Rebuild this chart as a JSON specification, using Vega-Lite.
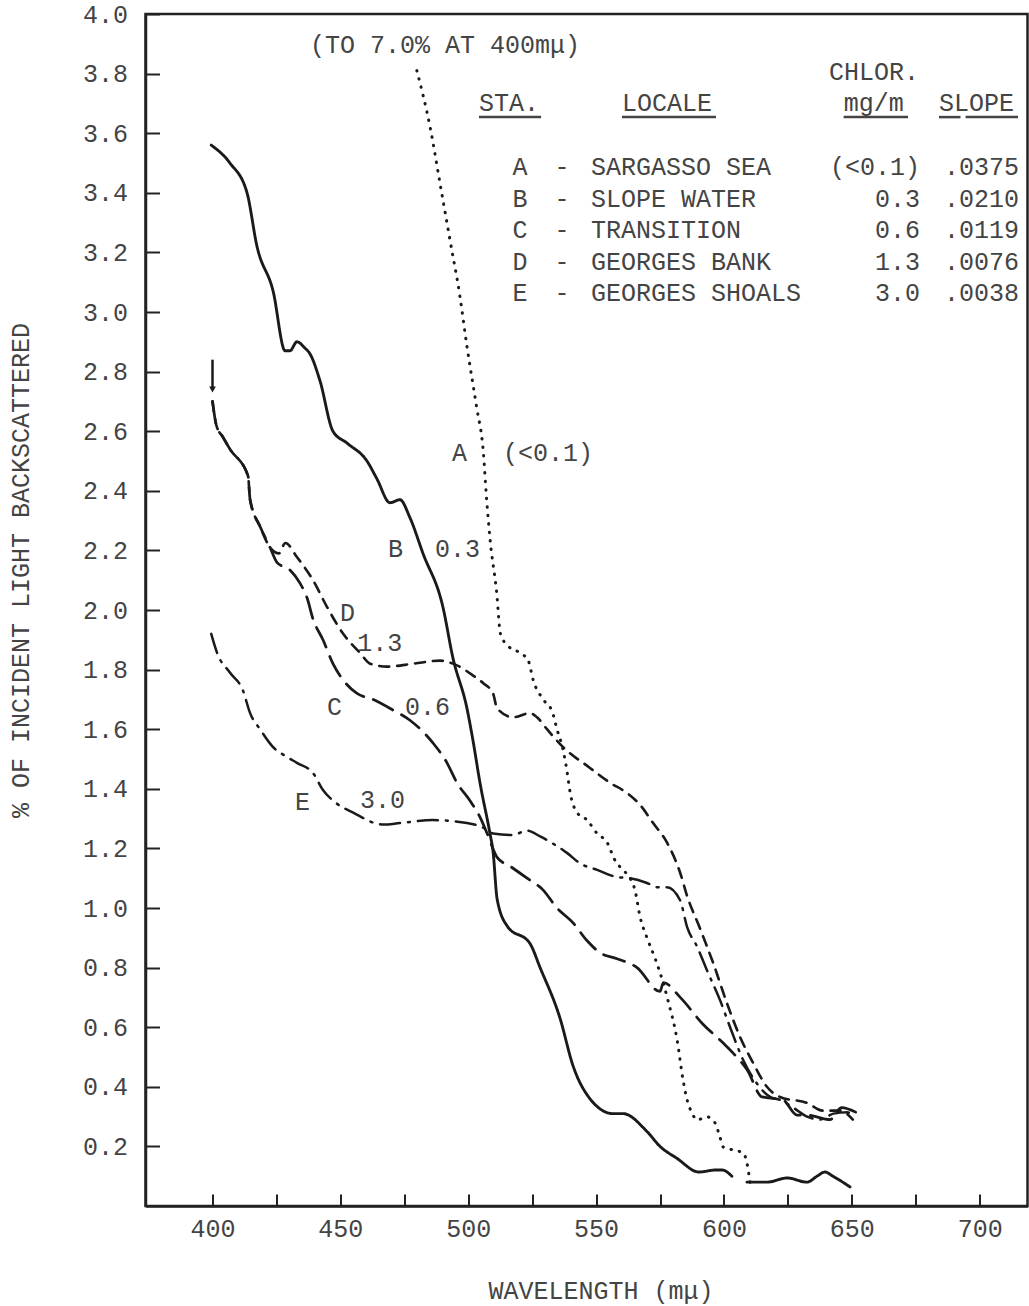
{
  "$schema": "https://vega.github.io/schema/vega-lite/v6.json",
  "width": 882,
  "height": 1192,
  "autosize": {"type": "none"},
  "padding": {"left": 145.5, "top": 14, "right": 1.5, "bottom": 100},
  "background": "white",
  "config": {
    "font": "Liberation Mono",
    "view": {"stroke": "#222", "strokeWidth": 2.5},
    "axis": {
      "grid": false,
      "domainColor": "#222",
      "domainWidth": 2.5,
      "tickColor": "#222",
      "tickWidth": 2,
      "labelFont": "Liberation Mono",
      "labelColor": "#444",
      "titleFont": "Liberation Mono",
      "titleColor": "#444",
      "titleFontWeight": "normal"
    }
  },
  "datasets": {
    "curves": [
      {"series": "A", "station": "A", "w": 479.9, "v": 3.81},
      {"series": "A", "station": "A", "w": 485.1, "v": 3.62},
      {"series": "A", "station": "A", "w": 489.0, "v": 3.43},
      {"series": "A", "station": "A", "w": 492.9, "v": 3.24},
      {"series": "A", "station": "A", "w": 496.8, "v": 3.05},
      {"series": "A", "station": "A", "w": 499.4, "v": 2.89},
      {"series": "A", "station": "A", "w": 503.3, "v": 2.68},
      {"series": "A", "station": "A", "w": 505.9, "v": 2.53},
      {"series": "A", "station": "A", "w": 507.2, "v": 2.37},
      {"series": "A", "station": "A", "w": 508.5, "v": 2.24},
      {"series": "A", "station": "A", "w": 511.1, "v": 2.06},
      {"series": "A", "station": "A", "w": 512.6, "v": 1.92},
      {"series": "A", "station": "A", "w": 515.5, "v": 1.88},
      {"series": "A", "station": "A", "w": 520.5, "v": 1.855},
      {"series": "A", "station": "A", "w": 523.5, "v": 1.83},
      {"series": "A", "station": "A", "w": 525.4, "v": 1.765},
      {"series": "A", "station": "A", "w": 529.3, "v": 1.70},
      {"series": "A", "station": "A", "w": 532.8, "v": 1.66},
      {"series": "A", "station": "A", "w": 534.7, "v": 1.60},
      {"series": "A", "station": "A", "w": 537.1, "v": 1.53},
      {"series": "A", "station": "A", "w": 538.6, "v": 1.46},
      {"series": "A", "station": "A", "w": 539.8, "v": 1.39},
      {"series": "A", "station": "A", "w": 542.6, "v": 1.32},
      {"series": "A", "station": "A", "w": 546.5, "v": 1.295},
      {"series": "A", "station": "A", "w": 550.4, "v": 1.25},
      {"series": "A", "station": "A", "w": 554.3, "v": 1.22},
      {"series": "A", "station": "A", "w": 557.4, "v": 1.16},
      {"series": "A", "station": "A", "w": 560.2, "v": 1.13},
      {"series": "A", "station": "A", "w": 563.3, "v": 1.10},
      {"series": "A", "station": "A", "w": 565.2, "v": 1.06},
      {"series": "A", "station": "A", "w": 567.2, "v": 0.97},
      {"series": "A", "station": "A", "w": 569.9, "v": 0.90},
      {"series": "A", "station": "A", "w": 573.1, "v": 0.83},
      {"series": "A", "station": "A", "w": 576.2, "v": 0.75},
      {"series": "A", "station": "A", "w": 578.1, "v": 0.69},
      {"series": "A", "station": "A", "w": 581.7, "v": 0.557},
      {"series": "A", "station": "A", "w": 584.0, "v": 0.423},
      {"series": "A", "station": "A", "w": 585.6, "v": 0.356},
      {"series": "A", "station": "A", "w": 587.5, "v": 0.312},
      {"series": "A", "station": "A", "w": 589.5, "v": 0.289},
      {"series": "A", "station": "A", "w": 593.4, "v": 0.299},
      {"series": "A", "station": "A", "w": 596.5, "v": 0.279},
      {"series": "A", "station": "A", "w": 598.4, "v": 0.232},
      {"series": "A", "station": "A", "w": 599.7, "v": 0.198},
      {"series": "A", "station": "A", "w": 603.6, "v": 0.188},
      {"series": "A", "station": "A", "w": 607.5, "v": 0.178},
      {"series": "A", "station": "A", "w": 609.0, "v": 0.144},
      {"series": "A", "station": "A", "w": 610.2, "v": 0.08},

      {"series": "B1", "station": "B", "w": 399.5, "v": 3.56},
      {"series": "B1", "station": "B", "w": 406.8, "v": 3.50},
      {"series": "B1", "station": "B", "w": 413.5, "v": 3.40},
      {"series": "B1", "station": "B", "w": 417.4, "v": 3.22},
      {"series": "B1", "station": "B", "w": 423.7, "v": 3.07},
      {"series": "B1", "station": "B", "w": 428.4, "v": 2.87},
      {"series": "B1", "station": "B", "w": 430.3, "v": 2.87},
      {"series": "B1", "station": "B", "w": 433.0, "v": 2.90},
      {"series": "B1", "station": "B", "w": 436.0, "v": 2.88},
      {"series": "B1", "station": "B", "w": 438.1, "v": 2.86},
      {"series": "B1", "station": "B", "w": 442.0, "v": 2.77},
      {"series": "B1", "station": "B", "w": 447.1, "v": 2.60},
      {"series": "B1", "station": "B", "w": 452.6, "v": 2.56},
      {"series": "B1", "station": "B", "w": 460.4, "v": 2.50},
      {"series": "B1", "station": "B", "w": 464.3, "v": 2.44},
      {"series": "B1", "station": "B", "w": 469.4, "v": 2.36},
      {"series": "B1", "station": "B", "w": 473.3, "v": 2.37},
      {"series": "B1", "station": "B", "w": 477.2, "v": 2.31},
      {"series": "B1", "station": "B", "w": 482.3, "v": 2.19},
      {"series": "B1", "station": "B", "w": 490.1, "v": 2.01},
      {"series": "B1", "station": "B", "w": 494.0, "v": 1.84},
      {"series": "B1", "station": "B", "w": 499.5, "v": 1.67},
      {"series": "B1", "station": "B", "w": 501.9, "v": 1.56},
      {"series": "B1", "station": "B", "w": 504.6, "v": 1.42},
      {"series": "B1", "station": "B", "w": 508.5, "v": 1.25},
      {"series": "B1", "station": "B", "w": 509.7, "v": 1.19},
      {"series": "B1", "station": "B", "w": 511.3, "v": 1.03},
      {"series": "B1", "station": "B", "w": 515.2, "v": 0.94},
      {"series": "B1", "station": "B", "w": 524.2, "v": 0.88},
      {"series": "B1", "station": "B", "w": 528.1, "v": 0.80},
      {"series": "B1", "station": "B", "w": 535.9, "v": 0.63},
      {"series": "B1", "station": "B", "w": 541.0, "v": 0.47},
      {"series": "B1", "station": "B", "w": 547.6, "v": 0.36},
      {"series": "B1", "station": "B", "w": 556.6, "v": 0.31},
      {"series": "B1", "station": "B", "w": 560.5, "v": 0.31},
      {"series": "B1", "station": "B", "w": 569.9, "v": 0.25},
      {"series": "B1", "station": "B", "w": 575.0, "v": 0.20},
      {"series": "B1", "station": "B", "w": 581.6, "v": 0.16},
      {"series": "B1", "station": "B", "w": 590.2, "v": 0.114},
      {"series": "B1", "station": "B", "w": 596.9, "v": 0.121},
      {"series": "B1", "station": "B", "w": 599.2, "v": 0.121},
      {"series": "B1", "station": "B", "w": 603.1, "v": 0.10},
      {"series": "B2", "station": "B", "w": 609.0, "v": 0.08},
      {"series": "B2", "station": "B", "w": 616.8, "v": 0.08},
      {"series": "B2", "station": "B", "w": 624.7, "v": 0.094},
      {"series": "B2", "station": "B", "w": 632.5, "v": 0.08},
      {"series": "B2", "station": "B", "w": 636.4, "v": 0.10},
      {"series": "B2", "station": "B", "w": 639.5, "v": 0.114},
      {"series": "B2", "station": "B", "w": 642.6, "v": 0.10},
      {"series": "B2", "station": "B", "w": 649.3, "v": 0.064},

      {"series": "C", "station": "C", "w": 400.0, "v": 2.70},
      {"series": "C", "station": "C", "w": 401.5, "v": 2.62},
      {"series": "C", "station": "C", "w": 404.1, "v": 2.58},
      {"series": "C", "station": "C", "w": 406.8, "v": 2.54},
      {"series": "C", "station": "C", "w": 413.9, "v": 2.45},
      {"series": "C", "station": "C", "w": 414.7, "v": 2.37},
      {"series": "C", "station": "C", "w": 418.6, "v": 2.28},
      {"series": "C", "station": "C", "w": 422.5, "v": 2.21},
      {"series": "C", "station": "C", "w": 425.2, "v": 2.16},
      {"series": "C", "station": "C", "w": 430.3, "v": 2.134},
      {"series": "C", "station": "C", "w": 434.2, "v": 2.09},
      {"series": "C", "station": "C", "w": 437.0, "v": 2.04},
      {"series": "C", "station": "C", "w": 439.3, "v": 1.97},
      {"series": "C", "station": "C", "w": 443.2, "v": 1.90},
      {"series": "C", "station": "C", "w": 447.1, "v": 1.82},
      {"series": "C", "station": "C", "w": 451.1, "v": 1.765},
      {"series": "C", "station": "C", "w": 456.5, "v": 1.72},
      {"series": "C", "station": "C", "w": 462.8, "v": 1.70},
      {"series": "C", "station": "C", "w": 470.6, "v": 1.664},
      {"series": "C", "station": "C", "w": 477.2, "v": 1.63},
      {"series": "C", "station": "C", "w": 486.2, "v": 1.554},
      {"series": "C", "station": "C", "w": 491.7, "v": 1.487},
      {"series": "C", "station": "C", "w": 495.6, "v": 1.42},
      {"series": "C", "station": "C", "w": 500.7, "v": 1.36},
      {"series": "C", "station": "C", "w": 504.6, "v": 1.305},
      {"series": "C", "station": "C", "w": 507.4, "v": 1.25},
      {"series": "C", "station": "C", "w": 511.3, "v": 1.17},
      {"series": "C", "station": "C", "w": 516.4, "v": 1.14},
      {"series": "C", "station": "C", "w": 523.0, "v": 1.10},
      {"series": "C", "station": "C", "w": 529.3, "v": 1.06},
      {"series": "C", "station": "C", "w": 534.7, "v": 1.00},
      {"series": "C", "station": "C", "w": 541.0, "v": 0.95},
      {"series": "C", "station": "C", "w": 546.5, "v": 0.89},
      {"series": "C", "station": "C", "w": 551.5, "v": 0.85},
      {"series": "C", "station": "C", "w": 558.2, "v": 0.83},
      {"series": "C", "station": "C", "w": 566.0, "v": 0.80},
      {"series": "C", "station": "C", "w": 575.0, "v": 0.72},
      {"series": "C", "station": "C", "w": 576.3, "v": 0.75},
      {"series": "C", "station": "C", "w": 582.9, "v": 0.70},
      {"series": "C", "station": "C", "w": 591.8, "v": 0.61},
      {"series": "C", "station": "C", "w": 599.7, "v": 0.547},
      {"series": "C", "station": "C", "w": 603.6, "v": 0.513},
      {"series": "C", "station": "C", "w": 609.1, "v": 0.456},
      {"series": "C", "station": "C", "w": 614.9, "v": 0.366},
      {"series": "C", "station": "C", "w": 623.1, "v": 0.356},
      {"series": "C", "station": "C", "w": 628.6, "v": 0.305},
      {"series": "C", "station": "C", "w": 632.5, "v": 0.305},
      {"series": "C", "station": "C", "w": 641.5, "v": 0.29},
      {"series": "C", "station": "C", "w": 646.0, "v": 0.33},
      {"series": "C", "station": "C", "w": 651.5, "v": 0.315},

      {"series": "D", "station": "D", "w": 400.0, "v": 2.70},
      {"series": "D", "station": "D", "w": 401.5, "v": 2.62},
      {"series": "D", "station": "D", "w": 404.1, "v": 2.58},
      {"series": "D", "station": "D", "w": 406.8, "v": 2.54},
      {"series": "D", "station": "D", "w": 413.9, "v": 2.45},
      {"series": "D", "station": "D", "w": 414.7, "v": 2.37},
      {"series": "D", "station": "D", "w": 418.6, "v": 2.28},
      {"series": "D", "station": "D", "w": 422.5, "v": 2.21},
      {"series": "D", "station": "D", "w": 426.0, "v": 2.19},
      {"series": "D", "station": "D", "w": 428.5, "v": 2.225},
      {"series": "D", "station": "D", "w": 433.0, "v": 2.178},
      {"series": "D", "station": "D", "w": 439.3, "v": 2.10},
      {"series": "D", "station": "D", "w": 444.8, "v": 2.01},
      {"series": "D", "station": "D", "w": 451.1, "v": 1.92},
      {"series": "D", "station": "D", "w": 457.7, "v": 1.856},
      {"series": "D", "station": "D", "w": 461.6, "v": 1.82},
      {"series": "D", "station": "D", "w": 468.3, "v": 1.81},
      {"series": "D", "station": "D", "w": 478.5, "v": 1.82},
      {"series": "D", "station": "D", "w": 489.0, "v": 1.83},
      {"series": "D", "station": "D", "w": 494.1, "v": 1.82},
      {"series": "D", "station": "D", "w": 501.9, "v": 1.78},
      {"series": "D", "station": "D", "w": 505.8, "v": 1.755},
      {"series": "D", "station": "D", "w": 509.7, "v": 1.72},
      {"series": "D", "station": "D", "w": 511.3, "v": 1.67},
      {"series": "D", "station": "D", "w": 517.5, "v": 1.64},
      {"series": "D", "station": "D", "w": 524.2, "v": 1.654},
      {"series": "D", "station": "D", "w": 526.9, "v": 1.64},
      {"series": "D", "station": "D", "w": 530.8, "v": 1.60},
      {"series": "D", "station": "D", "w": 537.1, "v": 1.54},
      {"series": "D", "station": "D", "w": 547.6, "v": 1.47},
      {"series": "D", "station": "D", "w": 555.5, "v": 1.42},
      {"series": "D", "station": "D", "w": 562.1, "v": 1.386},
      {"series": "D", "station": "D", "w": 567.2, "v": 1.346},
      {"series": "D", "station": "D", "w": 572.3, "v": 1.285},
      {"series": "D", "station": "D", "w": 577.7, "v": 1.22},
      {"series": "D", "station": "D", "w": 582.8, "v": 1.12},
      {"series": "D", "station": "D", "w": 585.6, "v": 1.04},
      {"series": "D", "station": "D", "w": 590.7, "v": 0.93},
      {"series": "D", "station": "D", "w": 595.8, "v": 0.815},
      {"series": "D", "station": "D", "w": 601.2, "v": 0.68},
      {"series": "D", "station": "D", "w": 606.3, "v": 0.567},
      {"series": "D", "station": "D", "w": 611.4, "v": 0.48},
      {"series": "D", "station": "D", "w": 616.8, "v": 0.40},
      {"series": "D", "station": "D", "w": 621.9, "v": 0.366},
      {"series": "D", "station": "D", "w": 632.5, "v": 0.346},
      {"series": "D", "station": "D", "w": 638.7, "v": 0.32},
      {"series": "D", "station": "D", "w": 645.4, "v": 0.32},
      {"series": "D", "station": "D", "w": 650.4, "v": 0.29},

      {"series": "E", "station": "E", "w": 399.5, "v": 1.92},
      {"series": "E", "station": "E", "w": 401.8, "v": 1.856},
      {"series": "E", "station": "E", "w": 406.8, "v": 1.79},
      {"series": "E", "station": "E", "w": 411.9, "v": 1.73},
      {"series": "E", "station": "E", "w": 414.7, "v": 1.654},
      {"series": "E", "station": "E", "w": 418.6, "v": 1.60},
      {"series": "E", "station": "E", "w": 423.7, "v": 1.54},
      {"series": "E", "station": "E", "w": 429.1, "v": 1.507},
      {"series": "E", "station": "E", "w": 433.0, "v": 1.487},
      {"series": "E", "station": "E", "w": 439.3, "v": 1.453},
      {"series": "E", "station": "E", "w": 443.2, "v": 1.396},
      {"series": "E", "station": "E", "w": 448.7, "v": 1.35},
      {"series": "E", "station": "E", "w": 455.0, "v": 1.32},
      {"series": "E", "station": "E", "w": 466.7, "v": 1.28},
      {"series": "E", "station": "E", "w": 473.3, "v": 1.285},
      {"series": "E", "station": "E", "w": 486.2, "v": 1.295},
      {"series": "E", "station": "E", "w": 499.5, "v": 1.285},
      {"series": "E", "station": "E", "w": 505.8, "v": 1.27},
      {"series": "E", "station": "E", "w": 509.7, "v": 1.25},
      {"series": "E", "station": "E", "w": 517.5, "v": 1.245},
      {"series": "E", "station": "E", "w": 523.0, "v": 1.26},
      {"series": "E", "station": "E", "w": 528.1, "v": 1.24},
      {"series": "E", "station": "E", "w": 538.6, "v": 1.185},
      {"series": "E", "station": "E", "w": 543.7, "v": 1.15},
      {"series": "E", "station": "E", "w": 550.4, "v": 1.128},
      {"series": "E", "station": "E", "w": 558.2, "v": 1.104},
      {"series": "E", "station": "E", "w": 563.3, "v": 1.10},
      {"series": "E", "station": "E", "w": 569.9, "v": 1.084},
      {"series": "E", "station": "E", "w": 573.8, "v": 1.07},
      {"series": "E", "station": "E", "w": 577.7, "v": 1.07},
      {"series": "E", "station": "E", "w": 582.8, "v": 1.027},
      {"series": "E", "station": "E", "w": 585.6, "v": 0.936},
      {"series": "E", "station": "E", "w": 589.5, "v": 0.87},
      {"series": "E", "station": "E", "w": 593.4, "v": 0.79},
      {"series": "E", "station": "E", "w": 598.5, "v": 0.69},
      {"series": "E", "station": "E", "w": 602.4, "v": 0.60},
      {"series": "E", "station": "E", "w": 607.5, "v": 0.49},
      {"series": "E", "station": "E", "w": 613.0, "v": 0.41},
      {"series": "E", "station": "E", "w": 618.0, "v": 0.366},
      {"series": "E", "station": "E", "w": 621.9, "v": 0.356},
      {"series": "E", "station": "E", "w": 627.1, "v": 0.33},
      {"series": "E", "station": "E", "w": 632.5, "v": 0.30},
      {"series": "E", "station": "E", "w": 637.6, "v": 0.29},
      {"series": "E", "station": "E", "w": 642.8, "v": 0.31},
      {"series": "E", "station": "E", "w": 648.2, "v": 0.315},
      {"series": "E", "station": "E", "w": 650.4, "v": 0.30}
    ],
    "notes": [
      {"t": "(TO 7.0% AT 400mμ)", "w": 438.1, "v": 3.896},
      {"t": "CHLOR.", "w": 641.1, "v": 3.806},
      {"t": "STA.", "w": 504.2, "v": 3.70},
      {"t": "LOCALE", "w": 560.1, "v": 3.70},
      {"t": "mg/m", "w": 646.8, "v": 3.70},
      {"t": "SLOPE", "w": 684.1, "v": 3.70},
      {"t": "A", "w": 493.7, "v": 2.527},
      {"t": "(<0.1)", "w": 513.6, "v": 2.527},
      {"t": "B", "w": 468.6, "v": 2.205},
      {"t": "0.3", "w": 487.0, "v": 2.205},
      {"t": "D", "w": 449.9, "v": 1.99},
      {"t": "1.3", "w": 456.6, "v": 1.889},
      {"t": "C", "w": 444.8, "v": 1.674},
      {"t": "0.6", "w": 475.3, "v": 1.674},
      {"t": "E", "w": 432.3, "v": 1.356},
      {"t": "3.0", "w": 457.7, "v": 1.362}
    ],
    "table": [
      {"sta": "A", "locale": "SARGASSO SEA", "chlor": "(<0.1)", "slope": ".0375", "v": 3.487},
      {"sta": "B", "locale": "SLOPE WATER", "chlor": "0.3", "slope": ".0210", "v": 3.379},
      {"sta": "C", "locale": "TRANSITION", "chlor": "0.6", "slope": ".0119", "v": 3.275},
      {"sta": "D", "locale": "GEORGES BANK", "chlor": "1.3", "slope": ".0076", "v": 3.168},
      {"sta": "E", "locale": "GEORGES SHOALS", "chlor": "3.0", "slope": ".0038", "v": 3.064}
    ],
    "underlines": [
      {"w1": 504.2, "w2": 528.5, "v": 3.654},
      {"w1": 560.1, "w2": 596.9, "v": 3.654},
      {"w1": 646.8, "w2": 672.0, "v": 3.654},
      {"w1": 684.1, "w2": 692.5, "v": 3.654},
      {"w1": 694.5, "w2": 715.0, "v": 3.654}
    ],
    "arrow": [{"w": 400, "v1": 2.84, "v2": 2.74}]
  },
  "layer": [
    {
      "data": {"name": "curves"},
      "mark": {"type": "line", "color": "#1a1a1a", "strokeCap": "round", "interpolate": "monotone"},
      "encoding": {
        "x": {
          "field": "w", "type": "quantitative",
          "scale": {"domain": [373.8, 718.7], "nice": false, "zero": false},
          "axis": {
            "values": [400, 425, 450, 475, 500, 525, 550, 575, 600, 625, 650, 675, 700],
            "labelExpr": "datum.value % 50 == 0 ? format(datum.value, 'd') : ''",
            "tickSize": -12,
            "labelPadding": 22,
            "labelDx": 6,
            "labelFontSize": 25,
            "title": "WAVELENGTH (mμ)",
            "titleFontSize": 25,
            "titleX": 455,
            "titleY": 84,
            "titleBaseline": "middle"
          }
        },
        "y": {
          "field": "v", "type": "quantitative",
          "scale": {"domain": [0, 4], "nice": false, "zero": false},
          "axis": {
            "values": [0.2, 0.4, 0.6, 0.8, 1.0, 1.2, 1.4, 1.6, 1.8, 2.0, 2.2, 2.4, 2.6, 2.8, 3.0, 3.2, 3.4, 3.6, 3.8, 4.0],
            "format": ".1f",
            "tickSize": -14,
            "labelPadding": 32,
            "labelFontSize": 25,
            "title": "% OF INCIDENT LIGHT BACKSCATTERED",
            "titleFontSize": 25,
            "titleX": -125,
            "titleY": 556,
            "titleAngle": -90,
            "titleAlign": "center",
            "titleBaseline": "middle"
          }
        },
        "detail": {"field": "series"},
        "strokeDash": {
          "field": "station", "type": "nominal",
          "scale": {"domain": ["A", "B", "C", "D", "E"], "range": [[0.5, 8], [1, 0], [22, 10], [10, 8], [20, 8, 2, 8]]},
          "legend": null
        },
        "strokeWidth": {
          "field": "station", "type": "nominal",
          "scale": {"domain": ["A", "B", "C", "D", "E"], "range": [3, 2.5, 2.6, 2.6, 2.5]},
          "legend": null
        }
      }
    },
    {
      "data": {"name": "arrow"},
      "mark": {"type": "rule", "strokeWidth": 2.5, "color": "#1a1a1a"},
      "encoding": {
        "x": {"field": "w", "type": "quantitative", "scale": {"domain": [373.8, 718.7], "nice": false, "zero": false}},
        "y": {"field": "v1", "type": "quantitative", "scale": {"domain": [0, 4], "nice": false, "zero": false}},
        "y2": {"field": "v2"}
      }
    },
    {
      "data": {"name": "arrow"},
      "mark": {"type": "point", "shape": "triangle-down", "filled": true, "size": 45, "color": "#1a1a1a", "opacity": 1},
      "encoding": {
        "x": {"field": "w", "type": "quantitative", "scale": {"domain": [373.8, 718.7], "nice": false, "zero": false}},
        "y": {"field": "v2", "type": "quantitative", "scale": {"domain": [0, 4], "nice": false, "zero": false}}
      }
    },
    {
      "data": {"name": "underlines"},
      "mark": {"type": "rule", "strokeWidth": 2.5, "color": "#444"},
      "encoding": {
        "x": {"field": "w1", "type": "quantitative", "scale": {"domain": [373.8, 718.7], "nice": false, "zero": false}},
        "x2": {"field": "w2"},
        "y": {"field": "v", "type": "quantitative", "scale": {"domain": [0, 4], "nice": false, "zero": false}}
      }
    },
    {
      "data": {"name": "notes"},
      "mark": {"type": "text", "align": "left", "baseline": "middle", "fontSize": 25, "font": "Liberation Mono", "color": "#444"},
      "encoding": {
        "x": {"field": "w", "type": "quantitative", "scale": {"domain": [373.8, 718.7], "nice": false, "zero": false}},
        "y": {"field": "v", "type": "quantitative", "scale": {"domain": [0, 4], "nice": false, "zero": false}},
        "text": {"field": "t"}
      }
    },
    {
      "data": {"name": "table"},
      "mark": {"type": "text", "align": "left", "baseline": "middle", "fontSize": 25, "font": "Liberation Mono", "color": "#444"},
      "encoding": {
        "x": {"datum": 517.3, "type": "quantitative", "scale": {"domain": [373.8, 718.7], "nice": false, "zero": false}},
        "y": {"field": "v", "type": "quantitative", "scale": {"domain": [0, 4], "nice": false, "zero": false}},
        "text": {"field": "sta"}
      }
    },
    {
      "data": {"name": "table"},
      "mark": {"type": "text", "align": "center", "baseline": "middle", "fontSize": 25, "font": "Liberation Mono", "color": "#444"},
      "encoding": {
        "x": {"datum": 536.7, "type": "quantitative", "scale": {"domain": [373.8, 718.7], "nice": false, "zero": false}},
        "y": {"field": "v", "type": "quantitative", "scale": {"domain": [0, 4], "nice": false, "zero": false}},
        "text": {"value": "-"}
      }
    },
    {
      "data": {"name": "table"},
      "mark": {"type": "text", "align": "left", "baseline": "middle", "fontSize": 25, "font": "Liberation Mono", "color": "#444"},
      "encoding": {
        "x": {"datum": 548.0, "type": "quantitative", "scale": {"domain": [373.8, 718.7], "nice": false, "zero": false}},
        "y": {"field": "v", "type": "quantitative", "scale": {"domain": [0, 4], "nice": false, "zero": false}},
        "text": {"field": "locale"}
      }
    },
    {
      "data": {"name": "table"},
      "mark": {"type": "text", "align": "right", "baseline": "middle", "fontSize": 25, "font": "Liberation Mono", "color": "#444"},
      "encoding": {
        "x": {"datum": 676.7, "type": "quantitative", "scale": {"domain": [373.8, 718.7], "nice": false, "zero": false}},
        "y": {"field": "v", "type": "quantitative", "scale": {"domain": [0, 4], "nice": false, "zero": false}},
        "text": {"field": "chlor"}
      }
    },
    {
      "data": {"name": "table"},
      "mark": {"type": "text", "align": "left", "baseline": "middle", "fontSize": 25, "font": "Liberation Mono", "color": "#444"},
      "encoding": {
        "x": {"datum": 686.0, "type": "quantitative", "scale": {"domain": [373.8, 718.7], "nice": false, "zero": false}},
        "y": {"field": "v", "type": "quantitative", "scale": {"domain": [0, 4], "nice": false, "zero": false}},
        "text": {"field": "slope"}
      }
    }
  ]
}
